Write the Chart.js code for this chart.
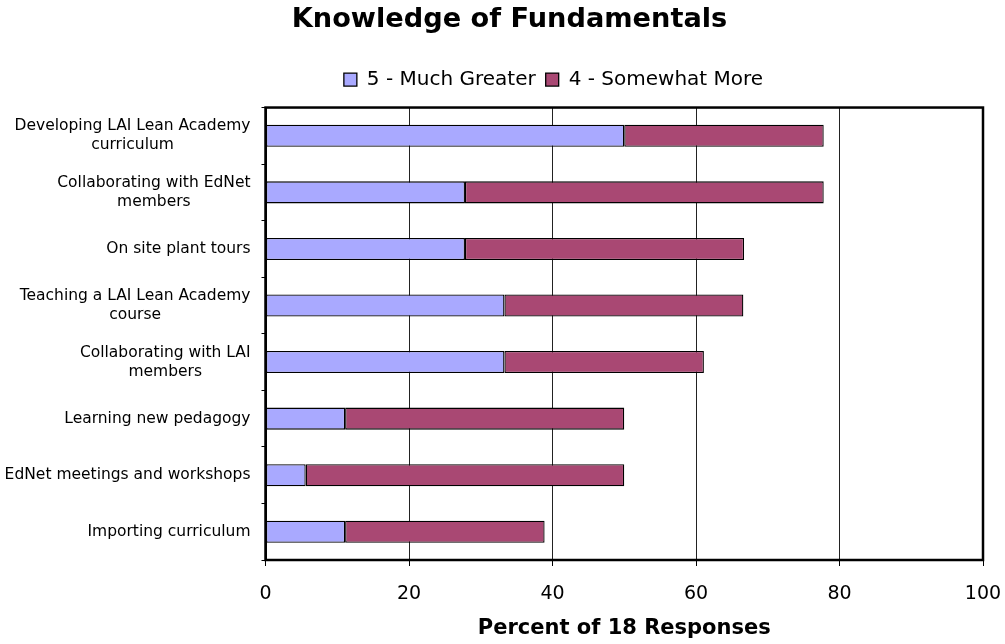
<!DOCTYPE html>
<html>
<head>
<meta charset="utf-8">
<script src="https://cdn.jsdelivr.net/npm/chart.js@4/dist/chart.umd.min.js"></script>
<style>
html,body{margin:0;padding:0;background:#fff;}
#wrap{width:1005px;height:644px;}
</style>
</head>
<body>
<div id="wrap"><canvas id="c" width="1005" height="644"></canvas></div>
<script>
const categories = [
  ["Developing LAI Lean Academy", "curriculum"],
  ["Collaborating with EdNet", "members"],
  "On site plant tours",
  ["Teaching a LAI Lean Academy", "course"],
  ["Collaborating with LAI", "members"],
  "Learning new pedagogy",
  "EdNet meetings and workshops",
  "Importing curriculum"
];
const seriesNames = ["5 - Much Greater", "4 - Somewhat More"];
const muchGreater   = [50.0, 27.8, 27.8, 33.3, 33.3, 11.1, 5.6, 11.1];
const somewhatMore  = [27.8, 50.0, 38.9, 33.3, 27.8, 38.9, 44.4, 27.8];
const xTicks = [0, 20, 40, 60, 80, 100];

const FONT = "'DejaVu Sans', Verdana, sans-serif";

const helperPlugin = {
  id: 'helper',
  afterLayout(chart) {
    const shiftX = (blk, dx) => { if (blk) { blk.left += dx; blk.right += dx; } };
    shiftX(chart.titleBlock, 18);
    if (chart.legend) {
      shiftX(chart.legend, 62);
      chart.legend.top -= 8; chart.legend.bottom -= 8;
      if (chart.legend.adjustHitBoxes) chart.legend.adjustHitBoxes();
    }
  },
  afterDatasetsDraw(chart) {
    const a = chart.chartArea, ctx = chart.ctx;
    ctx.save();
    ctx.strokeStyle = '#000';
    ctx.lineWidth = 2.5;
    ctx.strokeRect(a.left, a.top, a.right - a.left, a.bottom - a.top);
    ctx.restore();
  },
  afterDraw(chart) {
    const ys = chart.scales.y, ctx = chart.ctx;
    const rightEdge = ys.right - 15;
    ctx.save();
    ctx.font = "15.5px " + FONT;
    ctx.fillStyle = '#000';
    ctx.textAlign = 'center';
    ctx.textBaseline = 'middle';
    chart.data.labels.forEach((lab, i) => {
      const lines = Array.isArray(lab) ? lab : [lab];
      const cy = ys.getPixelForTick(i);
      const w = Math.max(...lines.map(l => ctx.measureText(l).width));
      const cx = rightEdge - w / 2;
      lines.forEach((ln, k) => {
        ctx.fillText(ln, cx, cy + (k - (lines.length - 1) / 2) * 19);
      });
    });
    ctx.restore();
  }
};

new Chart(document.getElementById('c'), {
  type: 'bar',
  data: {
    labels: categories,
    datasets: [
      { label: seriesNames[0], data: muchGreater, backgroundColor: '#A9A9FF', borderColor: '#000', borderWidth: 1.3, borderSkipped: false },
      { label: seriesNames[1], data: somewhatMore, backgroundColor: '#A94873', borderColor: '#000', borderWidth: 1.3, borderSkipped: false }
    ]
  },
  options: {
    indexAxis: 'y',
    responsive: false,
    animation: false,
    devicePixelRatio: 1,
    layout: { padding: { top: 0, left: 0, right: 22, bottom: 0 } },
    datasets: { bar: { barPercentage: 0.39, categoryPercentage: 1.0 } },
    plugins: {
      title: {
        display: true,
        text: 'Knowledge of Fundamentals',
        color: '#000',
        font: { family: FONT, size: 27.2, weight: 'bold' },
        padding: { top: 3.5, bottom: 31.4 }
      },
      legend: {
        display: true,
        labels: {
          color: '#000',
          font: { family: FONT, size: 20 },
          boxWidth: 13, boxHeight: 13,
          padding: 10
        }
      },
      tooltip: { enabled: false }
    },
    scales: {
      x: {
        stacked: true,
        min: 0, max: 100,
        afterBuildTicks(scale) { scale.ticks = xTicks.map(v => ({ value: v })); },
        afterFit(scale) { scale.height = 84; scale.paddingLeft = 0; scale.paddingRight = 0; },
        ticks: { color: '#000', font: { family: FONT, size: 19 }, padding: 17, maxRotation: 0 },
        grid: { color: '#222', lineWidth: 1, tickLength: 6, tickColor: '#000' },
        border: { color: '#000', width: 2 },
        title: {
          display: true,
          text: 'Percent of 18 Responses',
          color: '#000',
          font: { family: FONT, size: 21, weight: 'bold' },
          padding: { top: 0, bottom: 3 }
        }
      },
      y: {
        stacked: true,
        afterFit(scale) { scale.width = 265.5; scale.paddingTop = 0; scale.paddingBottom = 0; },
        ticks: { display: false },
        grid: { display: true, drawOnChartArea: false, offset: true, tickLength: 4, color: '#000', lineWidth: 1 },
        border: { color: '#000', width: 2 }
      }
    }
  },
  plugins: [helperPlugin]
});
</script>
</body>
</html>
